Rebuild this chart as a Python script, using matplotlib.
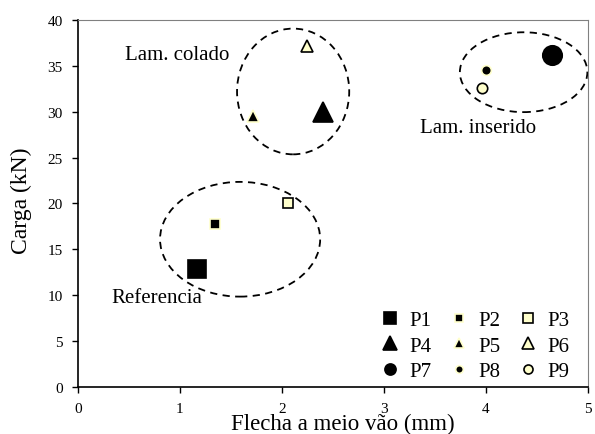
import matplotlib
matplotlib.use("Agg")
from matplotlib import pyplot as plt
from matplotlib.patches import Ellipse
from matplotlib.lines import Line2D

plt.rcParams['font.family'] = ['Liberation Serif', 'DejaVu Serif']

# pontos: flecha (mm), carga (kN)
labels = ["P1", "P2", "P3", "P4", "P5", "P6", "P7", "P8", "P9"]
flecha = [1.17, 1.34, 2.06, 2.40, 1.72, 2.25, 4.65, 4.00, 3.96]
carga = [12.9, 17.8, 20.0, 30.0, 29.5, 37.1, 36.2, 34.5, 32.6]

markers = ["s", "s", "s", "^", "^", "^", "o", "o", "o"]
sizes = [13, 7, 7.5, 15, 8.5, 9, 14, 7, 7.5]
leg_sizes = [8, 5.5, 7, 10, 6.5, 8.5, 8, 5.5, 6.5]
yel = "#FFFFCC"
faces = ["k", "k", yel] * 3
edges = ["k", yel, "k"] * 3

fig = plt.figure(figsize=(5.95, 4.35), dpi=100)
ax = fig.add_axes([0.131, 0.108, 0.857, 0.844])

for i in range(len(labels)):
    ax.plot(flecha[i], carga[i], linestyle="none", marker=markers[i],
            markersize=sizes[i], markerfacecolor=faces[i],
            markeredgecolor=edges[i], markeredgewidth=1.2, zorder=3)

# elipses tracejadas (grupos)
for cx, cy, w, h in [(1.59, 16.1, 1.57, 12.5), (2.11, 32.2, 1.10, 13.7), (4.37, 34.3, 1.25, 8.7)]:
    ax.add_patch(Ellipse((cx, cy), w, h, fill=False, edgecolor="k",
                         linestyle=(0, (4, 3)), linewidth=1.3, zorder=2))

ax.text(0.46, 36.2, "Lam. colado", fontsize=15, va="center", ha="left")
ax.text(0.33, 9.8, "Referencia", fontsize=15, va="center", ha="left")
ax.text(3.35, 28.3, "Lam. inserido", fontsize=15, va="center", ha="left")

# legenda em linhas (P1 P2 P3 / P4 ...), ncol preenche por coluna
handles = []
for i in range(len(labels)):
    handles.append(Line2D([], [], linestyle="none", marker=markers[i],
                          markersize=leg_sizes[i], markerfacecolor=faces[i],
                          markeredgecolor=edges[i], markeredgewidth=1.2,
                          label=labels[i]))
order = [0, 3, 6, 1, 4, 7, 2, 5, 8]
ax.legend([handles[j] for j in order], [labels[j] for j in order], ncol=3,
          frameon=False, fontsize=15, loc="lower right",
          bbox_to_anchor=(1.0, -0.035), handlelength=0.8, handletextpad=0.5,
          columnspacing=0.95, labelspacing=0.28)

ax.set_xlim(0, 5)
ax.set_ylim(0, 40)
ax.set_xticks(range(0, 6))
ax.set_yticks(range(0, 41, 5))
ax.tick_params(direction="out", length=4, width=1, labelsize=11)
ax.tick_params(axis="x", pad=6.5)
ax.tick_params(axis="y", pad=7)
ax.set_xlabel("Flecha a meio vão (mm)", fontsize=16.5)
ax.set_ylabel("Carga (kN)", fontsize=17)
ax.xaxis.set_label_coords(0.519, -0.071)
ax.yaxis.set_label_coords(-0.09, 0.51)
for s in ["top", "right"]:
    ax.spines[s].set_color("#808080")
for s in ["left", "bottom"]:
    ax.spines[s].set_linewidth(1.2)

fig.savefig("out.png", dpi=100)
